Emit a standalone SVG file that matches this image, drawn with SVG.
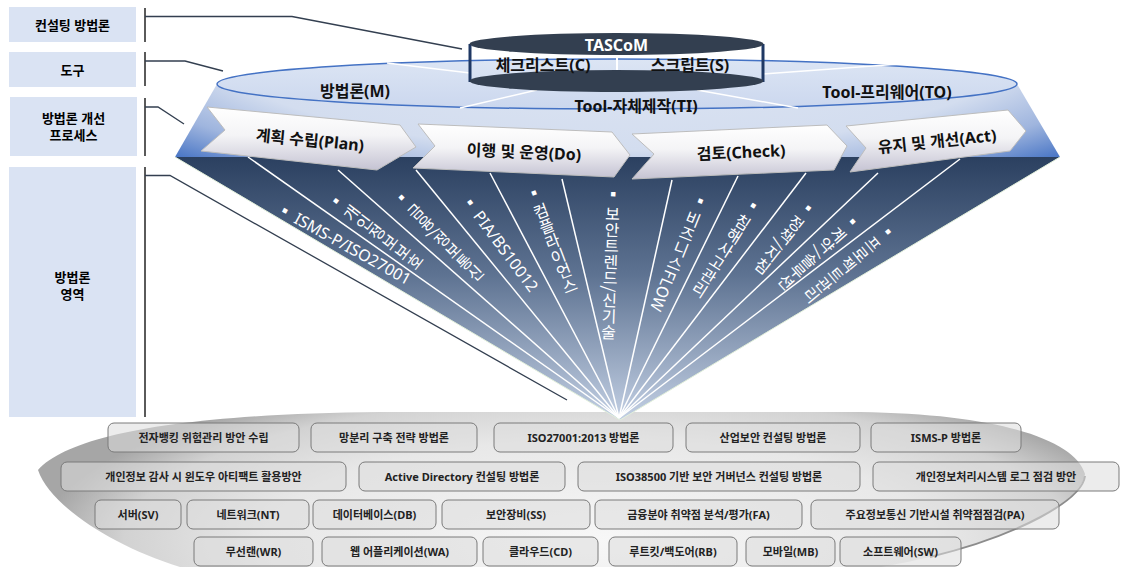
<svg xmlns="http://www.w3.org/2000/svg" width="1131" height="567" viewBox="0 0 1131 567">
<defs>
<style>
.t{font-family:"Noto Sans","Noto Sans CJK KR",sans-serif;font-weight:bold;dominant-baseline:central;text-anchor:middle}
.lb{fill:#DAE3F3}
.sep{stroke:#5A5A5A;stroke-width:2}
.con{fill:none;stroke:#333F50;stroke-width:1.3}
.bx{fill:#DCDCDC;fill-opacity:.55;stroke:#7A7A7A;stroke-width:1}
.bt{font-size:11px;fill:#222}
.ar{fill:url(#arG);stroke:#BDBDBD;stroke-width:1}
.at{font-size:16px;fill:#111}
.fl{stroke:#fff;stroke-width:1.5}
.vl{font-family:"Noto Sans CJK KR",sans-serif;font-size:16px;fill:#fff;writing-mode:vertical-rl}
.hl{font-family:"Noto Sans","Noto Sans CJK KR",sans-serif;font-size:16px;fill:#fff;dominant-baseline:central}
</style>
<linearGradient id="fanG" x1="0" y1="157" x2="0" y2="420" gradientUnits="userSpaceOnUse">
<stop offset="0" stop-color="#2B4060"/>
<stop offset="0.45" stop-color="#5E7392"/>
<stop offset="1" stop-color="#C3D0E4"/>
</linearGradient>
<radialGradient id="bandG" gradientUnits="userSpaceOnUse" cx="617" cy="20" r="640" gradientTransform="matrix(1 0 0 0.3 0 14)">
<stop offset="0" stop-color="#E1E8F4"/>
<stop offset="0.68" stop-color="#D3DDEF"/>
<stop offset="0.85" stop-color="#9FB5DE"/>
<stop offset="1" stop-color="#4472C4"/>
</radialGradient>
<linearGradient id="discG" x1="0" y1="0" x2="0" y2="1">
<stop offset="0" stop-color="#DCE5F4"/>
<stop offset="1" stop-color="#CBD7EE"/>
</linearGradient>
<radialGradient id="plateG" gradientUnits="userSpaceOnUse" cx="600" cy="540" r="560" gradientTransform="matrix(1 0 0 0.3 0 378)">
<stop offset="0" stop-color="#F7F7F7"/>
<stop offset="0.6" stop-color="#E8E8E8"/>
<stop offset="0.85" stop-color="#D2D2D2"/>
<stop offset="1" stop-color="#A6A6A6"/>
</radialGradient>
<linearGradient id="arG" x1="0" y1="0" x2="0" y2="1">
<stop offset="0" stop-color="#FFFFFF"/>
<stop offset="0.45" stop-color="#F4F4F6"/>
<stop offset="1" stop-color="#C5C3D3"/>
</linearGradient>
</defs>

<!-- left category labels -->
<g id="lbl-consulting"><rect class="lb" x="9" y="7" width="127" height="35"/><text class="t" x="72.5" y="24.5" font-size="13">컨설팅 방법론</text></g>
<g id="lbl-tool"><rect class="lb" x="9" y="52" width="127" height="35"/><text class="t" x="72.5" y="69.5" font-size="13">도구</text></g>
<g id="lbl-process"><rect class="lb" x="10" y="97" width="127" height="59"/><text class="t" x="73.5" y="117.5" font-size="13">방법론 개선</text><text class="t" x="73.5" y="135" font-size="13">프로세스</text></g>
<g id="lbl-area"><rect class="lb" x="9" y="167" width="127" height="250"/><text class="t" x="72.5" y="277" font-size="13">방법론</text><text class="t" x="72.5" y="293.5" font-size="13">영역</text></g>

<!-- bottom plate -->
<g id="plate">
<path d="M38 470 C70 435 180 414 380 412 L860 412 C1000 414 1075 440 1085 474 C1082 500 1020 535 930 557 C880 568 860 572 800 575 L250 575 C200 575 190 570 180 567 C110 545 50 505 38 470 Z" fill="url(#plateG)"/>
<path d="M1085 476 C1082 500 1020 535 930 557" fill="none" stroke="#8C8C8C" stroke-width="2"/>
</g>

<!-- upper band and disc -->
<g id="band"><polygon points="217,84 1017,84 1060,157 175,157" fill="url(#bandG)"/></g>
<g id="disc">
<ellipse cx="617" cy="84" rx="400" ry="25" fill="url(#discG)" stroke="#4472C4" stroke-width="1.5"/>
<line class="fl" x1="387" y1="63" x2="470" y2="73"/>
<line class="fl" x1="900" y1="64" x2="763" y2="74"/>
<line class="fl" x1="537" y1="90" x2="460" y2="108"/>
<line class="fl" x1="697" y1="90" x2="798" y2="108"/>
<text class="t" x="355" y="91" font-size="16" fill="#111">방법론(M)</text>
<text class="t" x="636" y="106" font-size="16" fill="#111">Tool-자체제작(TI)</text>
<text class="t" x="887" y="91.5" font-size="16" fill="#111">Tool-프리웨어(TO)</text>
</g>

<!-- TASCoM cylinder -->
<g id="tascom">
<line x1="470" y1="44" x2="470" y2="82" stroke="#1F3864" stroke-width="3"/>
<line x1="763" y1="44" x2="763" y2="82" stroke="#1F3864" stroke-width="3"/>
<ellipse cx="616.5" cy="81" rx="147" ry="11" fill="#333F50"/>
<ellipse cx="616.5" cy="44" rx="147" ry="11" fill="#333F50"/>
<line x1="617" y1="55" x2="617" y2="70" stroke="#fff" stroke-width="2"/>
<text class="t" x="616.5" y="44.5" font-size="16" fill="#fff">TASCoM</text>
<text class="t" x="543" y="65" font-size="16" fill="#111">체크리스트(C)</text>
<text class="t" x="690" y="65" font-size="16" fill="#111">스크립트(S)</text>
</g>

<!-- fan -->
<g id="fan">
<polygon points="175,157 1060,157 620,420" fill="url(#fanG)"/>
<polyline points="175,157 620,420 1060,157" fill="none" stroke="#E2EFDA" stroke-width="1"/>
<g id="fan-lines">
<line class="fl" x1="248" y1="157" x2="619" y2="418"/>
<line class="fl" x1="338" y1="170" x2="619" y2="418"/>
<line class="fl" x1="416" y1="170" x2="619" y2="418"/>
<line class="fl" x1="490" y1="173" x2="619" y2="418"/>
<line class="fl" x1="562" y1="179" x2="619" y2="418"/>
<line class="fl" x1="672" y1="180" x2="619" y2="418"/>
<line class="fl" x1="738" y1="176" x2="619" y2="418"/>
<line class="fl" x1="806" y1="173" x2="619" y2="418"/>
<line class="fl" x1="878" y1="173" x2="619" y2="418"/>
<line class="fl" x1="960" y1="159" x2="619" y2="418"/>
</g>
<text class="hl" transform="translate(285 211) rotate(29)" x="-8">▪ ISMS-P/ISO27001</text>
<text class="vl" transform="translate(336 201) rotate(-52.7)" y="-8">▪ 개인정보보호</text>
<text class="vl" transform="translate(401.5 197.5) rotate(-44.3)" y="-8">▪ 금융/정보통신</text>
<text class="hl" transform="translate(470 202.7) rotate(53.3)" x="-8">▪ PIA/BS10012</text>
<text class="vl" transform="translate(534 193) rotate(-21)" y="-8">▪ 컴플라이언스</text>
<text class="vl" transform="translate(613.3 194.3) rotate(2)" y="-8">▪ 보안트렌드/신기술</text>
<text class="vl" transform="translate(700.5 201) rotate(22)" y="-8">▪ 비즈니스FLOW</text>
<text class="vl" transform="translate(753.3 205.7) rotate(32.5)" y="-8">▪ 침해사고관리</text>
<text class="vl" transform="translate(808.3 208.3) rotate(38.4)" y="-8">▪ 정책/지침</text>
<text class="vl" transform="translate(852.7 221.7) rotate(48)" y="-8">▪ 계약/솔루션</text>
<text class="vl" transform="translate(888 231.7) rotate(50.5)" y="-8">▪ 프로젝트관리</text>
</g>

<!-- process arrows -->
<g id="arrow-plan"><polygon class="ar" points="207,107 400,125 416,147 377,170 201,151 225,130"/><text class="t at" transform="translate(310 140) rotate(5.5)">계획 수립(Plan)</text></g>
<g id="arrow-do"><polygon class="ar" points="418,124 612,132 630,155 614,177 413,168 435,146"/><text class="t at" transform="translate(524 152) rotate(2.5)">이행 및 운영(Do)</text></g>
<g id="arrow-check"><polygon class="ar" points="632,134 827,125 847,146 834,170 632,179 654,154"/><text class="t at" transform="translate(741 152) rotate(-2.6)">검토(Check)</text></g>
<g id="arrow-act"><polygon class="ar" points="846,126 1008,110 1026,131 1010,151 850,172 866,148"/><text class="t at" transform="translate(937 141) rotate(-6)">유지 및 개선(Act)</text></g>

<!-- connectors -->
<g id="connectors">
<line class="sep" x1="145" y1="8" x2="145" y2="42"/>
<line class="sep" x1="145" y1="52" x2="145" y2="86"/>
<line class="sep" x1="145" y1="98" x2="145" y2="156"/>
<line class="sep" x1="145" y1="167" x2="145" y2="417"/>
<polyline class="con" points="145,16.5 292,16.5 462,49"/>
<polyline class="con" points="145,61 185,61 223,71"/>
<polyline class="con" points="145,107 158,107 184,124"/>
<polyline class="con" points="145,175.5 170,175.5 567,400"/>
</g>

<!-- methodology boxes -->
<g id="methods">
<g id="m1"><rect class="bx" x="108" y="423" width="191" height="29" rx="6"/><text class="t bt" x="203.5" y="437.5">전자뱅킹 위험관리 방안 수립</text></g>
<g id="m2"><rect class="bx" x="311" y="423" width="166" height="29" rx="6"/><text class="t bt" x="394" y="437.5">망분리 구축 전략 방법론</text></g>
<g id="m3"><rect class="bx" x="494" y="423" width="179" height="29" rx="6"/><text class="t bt" x="583.5" y="437.5">ISO27001:2013 방법론</text></g>
<g id="m4"><rect class="bx" x="686" y="423" width="174" height="29" rx="6"/><text class="t bt" x="773" y="437.5">산업보안 컨설팅 방법론</text></g>
<g id="m5"><rect class="bx" x="871" y="423" width="150" height="29" rx="6"/><text class="t bt" x="946" y="437.5">ISMS-P 방법론</text></g>
<g id="m6"><rect class="bx" x="61" y="462" width="285" height="29" rx="6"/><text class="t bt" x="203.5" y="476.5">개인정보 감사 시 윈도우 아티팩트 활용방안</text></g>
<g id="m7"><rect class="bx" x="359" y="462" width="206" height="29" rx="6"/><text class="t bt" x="462" y="476.5">Active Directory 컨설팅 방법론</text></g>
<g id="m8"><rect class="bx" x="578" y="462" width="282" height="29" rx="6"/><text class="t bt" x="719" y="476.5">ISO38500 기반 보안 거버넌스 컨설팅 방법론</text></g>
<g id="m9"><rect class="bx" x="873" y="462" width="246" height="29" rx="6"/><text class="t bt" x="996" y="476.5">개인정보처리시스템 로그 점검 방안</text></g>
<g id="m10"><rect class="bx" x="95" y="500" width="86" height="29" rx="6"/><text class="t bt" x="138" y="514.5">서버(SV)</text></g>
<g id="m11"><rect class="bx" x="187" y="500" width="122" height="29" rx="6"/><text class="t bt" x="248" y="514.5">네트워크(NT)</text></g>
<g id="m12"><rect class="bx" x="313" y="500" width="123" height="29" rx="6"/><text class="t bt" x="374.5" y="514.5">데이터베이스(DB)</text></g>
<g id="m13"><rect class="bx" x="442" y="500" width="148" height="29" rx="6"/><text class="t bt" x="516" y="514.5">보안장비(SS)</text></g>
<g id="m14"><rect class="bx" x="595" y="500" width="207" height="29" rx="6"/><text class="t bt" x="698.5" y="514.5">금융분야 취약점 분석/평가(FA)</text></g>
<g id="m15"><rect class="bx" x="811" y="500" width="248" height="29" rx="6"/><text class="t bt" x="935" y="514.5">주요정보통신 기반시설 취약점점검(PA)</text></g>
<g id="m16"><rect class="bx" x="194" y="537" width="119" height="29" rx="6"/><text class="t bt" x="253.5" y="551.5">무선랜(WR)</text></g>
<g id="m17"><rect class="bx" x="322" y="537" width="155" height="29" rx="6"/><text class="t bt" x="399.5" y="551.5">웹 어플리케이션(WA)</text></g>
<g id="m18"><rect class="bx" x="483" y="537" width="115" height="29" rx="6"/><text class="t bt" x="540.5" y="551.5">클라우드(CD)</text></g>
<g id="m19"><rect class="bx" x="609" y="537" width="128" height="29" rx="6"/><text class="t bt" x="673" y="551.5">루트킷/백도어(RB)</text></g>
<g id="m20"><rect class="bx" x="746" y="537" width="89" height="29" rx="6"/><text class="t bt" x="790.5" y="551.5">모바일(MB)</text></g>
<g id="m21"><rect class="bx" x="840" y="537" width="121" height="29" rx="6"/><text class="t bt" x="900.5" y="551.5">소프트웨어(SW)</text></g>
</g>
</svg>
